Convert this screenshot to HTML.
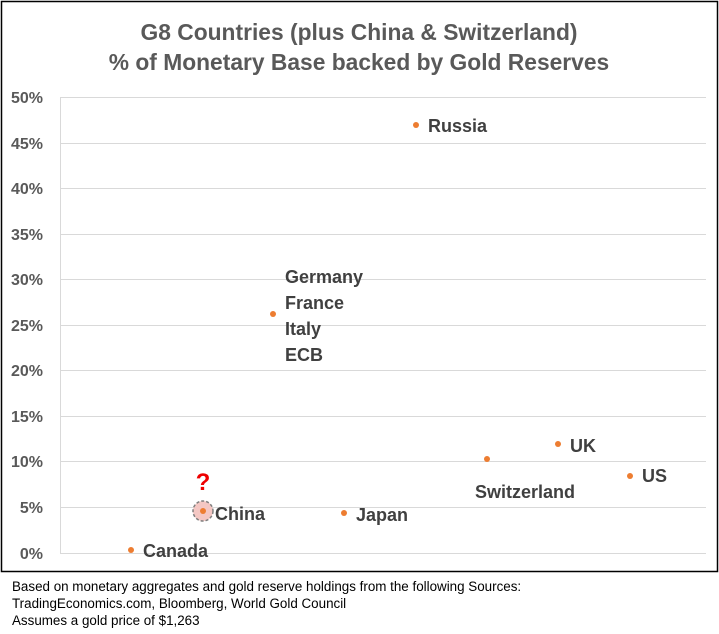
<!DOCTYPE html>
<html><head><style>
body{margin:0;background:#fff;width:719px;height:629px;overflow:hidden}
svg text{font-family:"Liberation Sans",sans-serif}
</style></head><body>
<svg width="719" height="629" xmlns="http://www.w3.org/2000/svg">
<rect x="1.5" y="1.5" width="716" height="570" fill="#fff" stroke="#000" stroke-width="1.5"/>
<g stroke="#d9d9d9" stroke-width="1">
<line x1="60" x2="706" y1="97.5" y2="97.5"/><line x1="60" x2="706" y1="143.5" y2="143.5"/>
<line x1="60" x2="706" y1="188.5" y2="188.5"/><line x1="60" x2="706" y1="234.5" y2="234.5"/>
<line x1="60" x2="706" y1="279.5" y2="279.5"/><line x1="60" x2="706" y1="325.5" y2="325.5"/>
<line x1="60" x2="706" y1="370.5" y2="370.5"/><line x1="60" x2="706" y1="416.5" y2="416.5"/>
<line x1="60" x2="706" y1="461.5" y2="461.5"/><line x1="60" x2="706" y1="507.5" y2="507.5"/>
<line x1="60" x2="706" y1="553.5" y2="553.5"/><line x1="60.5" x2="60.5" y1="97" y2="553"/>
</g>
<g font-weight="bold" fill="#595959" text-anchor="middle">
<text x="359" y="40" font-size="22.8">G8 Countries (plus China &amp; Switzerland)</text>
<text x="359" y="70" font-size="22.8">% of Monetary Base backed by Gold Reserves</text>
</g>
<g font-size="16" font-weight="bold" fill="#595959" text-anchor="end">
<text x="43" y="103">50%</text><text x="43" y="149">45%</text><text x="43" y="194">40%</text>
<text x="43" y="240">35%</text><text x="43" y="285">30%</text><text x="43" y="331">25%</text>
<text x="43" y="376">20%</text><text x="43" y="422">15%</text><text x="43" y="467">10%</text>
<text x="43" y="513">5%</text><text x="43" y="559">0%</text>
</g>
<ellipse cx="203" cy="511" rx="10" ry="10" fill="#f4c7c3" stroke="#7f7f7f" stroke-dasharray="3,2" stroke-width="1.5"/>
<g fill="#ed7d31">
<circle cx="416" cy="125" r="3"/><circle cx="273" cy="314" r="3"/><circle cx="131" cy="550" r="3"/>
<circle cx="203" cy="511" r="3"/><circle cx="344" cy="513" r="3"/><circle cx="487" cy="459" r="3"/>
<circle cx="558" cy="444" r="3"/><circle cx="630" cy="476" r="3"/>
</g>
<text x="203" y="490" font-size="24" font-weight="bold" fill="#e00" text-anchor="middle">?</text>
<g font-size="18" font-weight="bold" fill="#404040">
<text x="428" y="132">Russia</text>
<text x="285" y="283">Germany</text><text x="285" y="309">France</text>
<text x="285" y="335">Italy</text><text x="285" y="361">ECB</text>
<text x="143" y="557">Canada</text><text x="215" y="520">China</text>
<text x="356" y="521">Japan</text><text x="475" y="498">Switzerland</text>
<text x="570" y="452">UK</text><text x="642" y="482">US</text>
</g>
<g font-size="13.4" fill="#000">
<text x="12" y="591">Based on monetary aggregates and gold reserve holdings from the following Sources:</text>
<text x="12" y="608">TradingEconomics.com, Bloomberg, World Gold Council</text>
<text x="12" y="625">Assumes a gold price of $1,263</text>
</g>
</svg>
</body></html>
